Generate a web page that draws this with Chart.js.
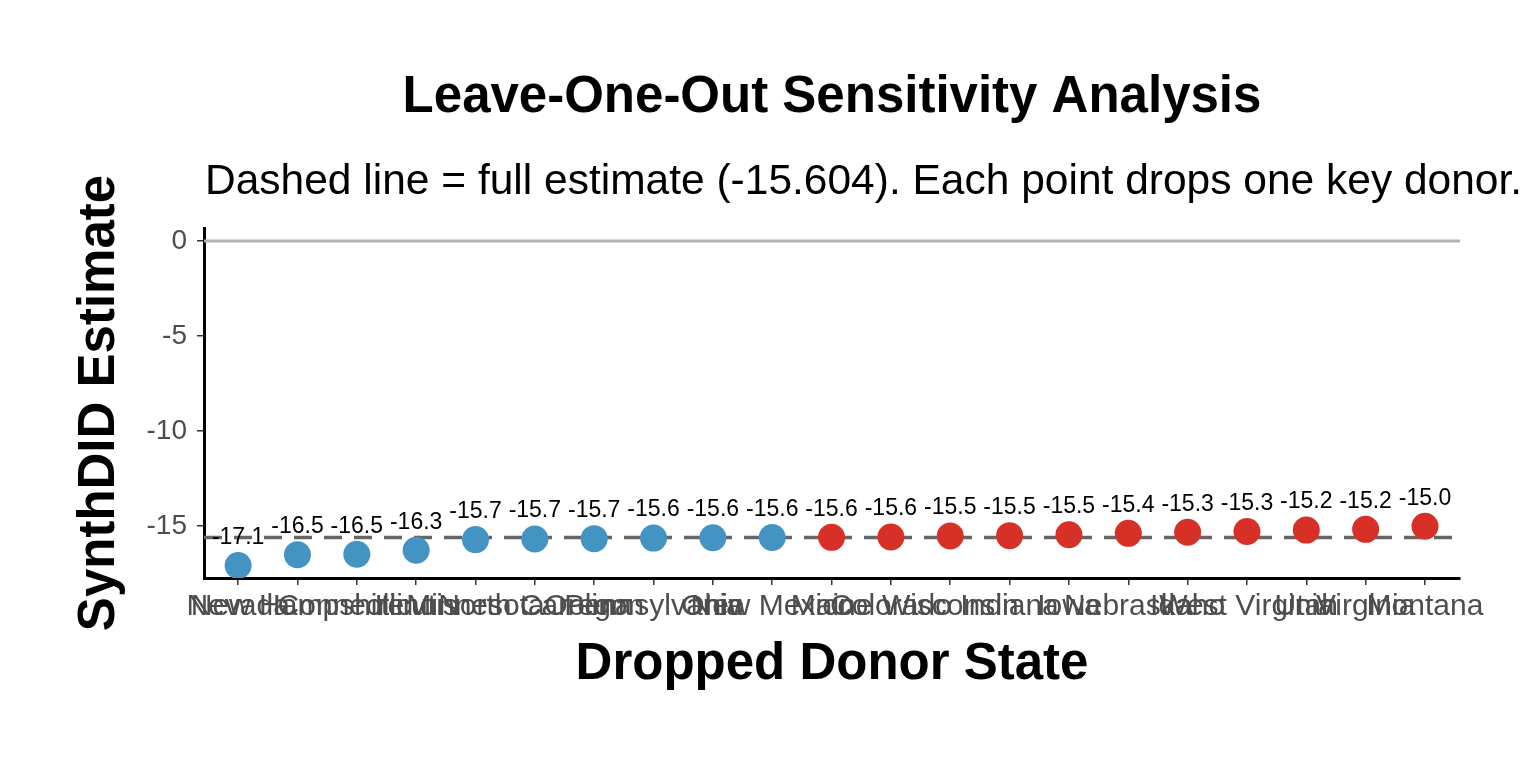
<!DOCTYPE html>
<html>
<head>
<meta charset="utf-8">
<script src="https://cdn.jsdelivr.net/npm/chart.js@4.4.1/dist/chart.umd.min.js"></script>
<style>
html,body{margin:0;padding:0;background:#fff;}
#wrap{width:1536px;height:768px;position:relative;}
</style>
</head>
<body>
<div id="wrap"><canvas id="c" width="1536" height="768"></canvas></div>
<script>
const states = ["Nevada","New Hampshire","Connecticut","Illinois","Minnesota","North Carolina","Oregon","Pennsylvania","Ohio","New Mexico","Maine","Colorado","Wisconsin","Indiana","Iowa","Nebraska","Idaho","West Virginia","Utah","Virginia","Montana"];
const estimates = [-17.08,-16.52,-16.49,-16.28,-15.72,-15.69,-15.67,-15.64,-15.62,-15.61,-15.60,-15.58,-15.53,-15.51,-15.46,-15.39,-15.33,-15.29,-15.22,-15.18,-15.02];
const fullEstimate = -15.604;
const yTicks = [0,-5,-10,-15];
const titleText = "Leave-One-Out Sensitivity Analysis";
const subtitleText = "Dashed line = full estimate (-15.604). Each point drops one key donor.";
const xTitle = "Dropped Donor State";
const yTitle = "SynthDID Estimate";

const blue = "#4393C3", red = "#D73027";
const pts = estimates.map((v,i)=>({x:i,y:v}));
const colors = estimates.map(v => v < fullEstimate ? blue : red);

const FONT = "'Liberation Sans', Arial, Helvetica, sans-serif";

const refLines = {
  id:'refLines',
  beforeDatasetsDraw(chart){
    const {ctx, chartArea:a, scales:{y}} = chart;
    ctx.save();
    ctx.strokeStyle = '#B3B3B3'; ctx.lineWidth = 3;
    const y0 = y.getPixelForValue(0);
    ctx.beginPath(); ctx.moveTo(a.left, y0); ctx.lineTo(a.right, y0); ctx.stroke();
    const yf = y.getPixelForValue(fullEstimate);
    ctx.strokeStyle = '#666666'; ctx.lineWidth = 3.5; ctx.setLineDash([18,12]);
    ctx.beginPath(); ctx.moveTo(a.left, yf); ctx.lineTo(a.right, yf); ctx.stroke();
    ctx.restore();
  }
};

const textPlugin = {
  id:'texts',
  afterDraw(chart){
    const {ctx, chartArea:a, scales:{x,y}} = chart;
    ctx.save();
    ctx.fillStyle = '#000'; ctx.font = `23px ${FONT}`;
    ctx.textAlign = 'center'; ctx.textBaseline = 'middle';
    estimates.forEach((v,i)=>{
      ctx.fillText(v.toFixed(1), x.getPixelForValue(i), y.getPixelForValue(v) - 28);
    });
    const cx = (a.left + a.right)/2;
    ctx.font = `bold 51px ${FONT}`;
    ctx.textBaseline = 'middle';
    ctx.fillText(titleText, cx, 98);
    ctx.font = `42.5px ${FONT}`;
    ctx.textAlign = 'left';
    ctx.fillText(subtitleText, a.left + 1, 182);
    ctx.font = `bold 51px ${FONT}`;
    ctx.textAlign = 'center';
    ctx.fillText(xTitle, cx, 665);
    ctx.translate(100, (a.top + a.bottom)/2);
    ctx.rotate(-Math.PI/2);
    ctx.fillText(yTitle, 0, 0);
    ctx.restore();
  }
};

new Chart(document.getElementById('c'), {
  type:'scatter',
  data:{datasets:[{
    data: pts,
    pointRadius: 13.5,
    pointHoverRadius: 13.5,
    pointBackgroundColor: colors,
    pointBorderColor: colors,
    pointBorderWidth: 0
  }]},
  options:{
    responsive:false,
    animation:false,
    events:[],
    layout:{padding:{left:0,right:76,top:228,bottom:0}},
    plugins:{legend:{display:false},tooltip:{enabled:false}},
    scales:{
      x:{
        type:'linear',
        min:-0.575, max:20.59,
        afterFit(s){ s.height = 190; },
        afterBuildTicks(s){ s.ticks = states.map((_,i)=>({value:i})); },
        ticks:{
          autoSkip:false, maxRotation:0, minRotation:0,
          color:'#4D4D4D', font:{family:FONT, size:30}, padding:4,
          callback:(v)=>states[v] ?? ''
        },
        grid:{drawOnChartArea:false, color:'#333333', tickLength:7, lineWidth:1.5},
        border:{color:'#000', width:3}
      },
      y:{
        min:-17.74, max:0.68,
        afterFit(s){ s.width = 204; },
        afterBuildTicks(s){ s.ticks = yTicks.map(v=>({value:v})); },
        ticks:{color:'#4D4D4D', font:{family:FONT, size:28}, padding:10,
          callback:(v)=>String(v)},
        grid:{drawOnChartArea:false, color:'#333333', tickLength:7, lineWidth:1.5},
        border:{color:'#000', width:3}
      }
    }
  },
  plugins:[refLines, textPlugin]
});
</script>
</body>
</html>
